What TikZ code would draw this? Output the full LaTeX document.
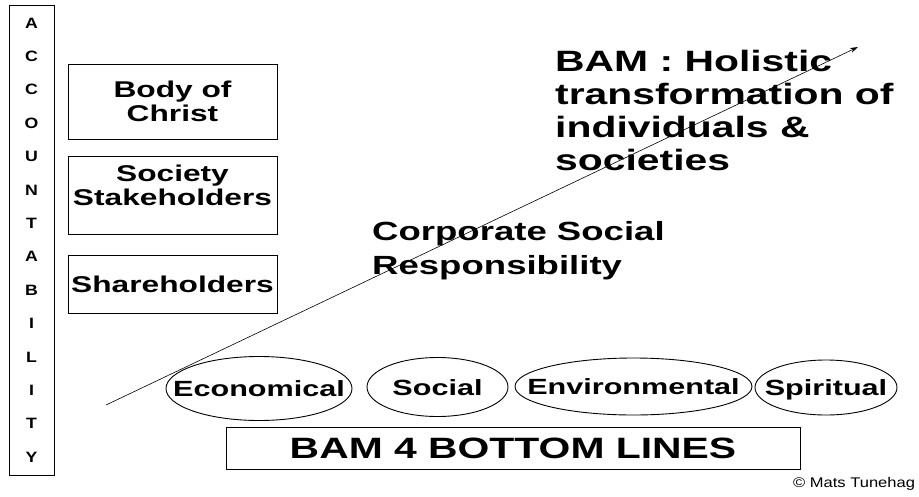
\documentclass[tikz,border=0pt]{standalone}
\usepackage{fontspec}
\setmainfont{Liberation Sans}[FakeStretch=1.39]
\newfontfamily\copyfont{Liberation Sans}[FakeStretch=1.18]
\usetikzlibrary{shapes.geometric,arrows.meta}
\tikzset{
  frame/.style={draw, line width=0.9pt},
  lbl/.style={inner sep=0pt, align=center, font=\bfseries\fontsize{22.8}{24.5}\selectfont},
  oval/.style={draw, ellipse, line width=0.9pt, inner sep=0pt, text height=16pt, text depth=0pt,
               font=\bfseries\fontsize{22}{24}\selectfont},
  big/.style={inner sep=0pt, align=left, anchor=base west},
  growth/.style={line width=0.6pt, -{Stealth[length=8pt,width=5pt]}}
}
\begin{document}
\begin{tikzpicture}[x=1pt,y=-1pt]
\useasboundingbox (0,0) rectangle (919,496);
% accountability column
\draw[frame] (9,5.5) rectangle (54,475);
\node[inner sep=0pt, align=center, font=\copyfont\bfseries\fontsize{15}{33.4}\selectfont] (acc) at (31.5,240)
  {A\\C\\C\\O\\U\\N\\T\\A\\B\\I\\L\\I\\T\\Y};
% accountability boxes
\draw[frame] (68,64) rectangle (277,139);
\node[lbl] (body) at (172.5,101.5) {Body of\\Christ};
\draw[frame] (68,156) rectangle (277,234);
\node[lbl] (soc) at (172.5,185.5) {Society\\Stakeholders};
\draw[frame] (68,255) rectangle (277,313);
\node[lbl, text height=16.5pt, text depth=0pt] (share) at (172.5,284.5) {Shareholders};
% growth arrow
\coordinate (start) at (106,405);
\coordinate (end) at (858,47);
\draw[growth] (start) -- (end);
% headings (base anchor = baseline of last line)
\node[big, font=\bfseries\fontsize{29.4}{33}\selectfont] (bam) at (555,170)
  {BAM : Holistic\\transformation of\\individuals \&\\societies};
\node[big, font=\bfseries\fontsize{26.3}{34}\selectfont] (csr) at (372,274)
  {Corporate Social\\Responsibility};
% bottom lines
\node[oval, minimum width=186pt, minimum height=64pt] (eco) at (259,388.5) {\makebox[0pt]{Economical}};
\node[oval, minimum width=141pt, minimum height=59pt] (socl) at (437.5,387) {\makebox[0pt]{Social}};
\node[oval, minimum width=237pt, minimum height=57pt] (env) at (633.5,386.5) {\makebox[0pt]{Environmental}};
\node[oval, minimum width=142pt, minimum height=55pt] (spi) at (826,387.5) {\makebox[0pt]{Spiritual}};
\node[draw, line width=0.9pt, inner sep=0pt, minimum width=574pt, minimum height=42pt,
      text height=21pt, text depth=0pt, font=\bfseries\fontsize{29.4}{33}\selectfont] (bl) at (513,448)
  {BAM 4 BOTTOM LINES};
\node[inner sep=0pt, anchor=base west, font=\copyfont\fontsize{14}{16}\selectfont] (copy) at (793,487)
  {© Mats Tunehag};
\end{tikzpicture}
\end{document}
